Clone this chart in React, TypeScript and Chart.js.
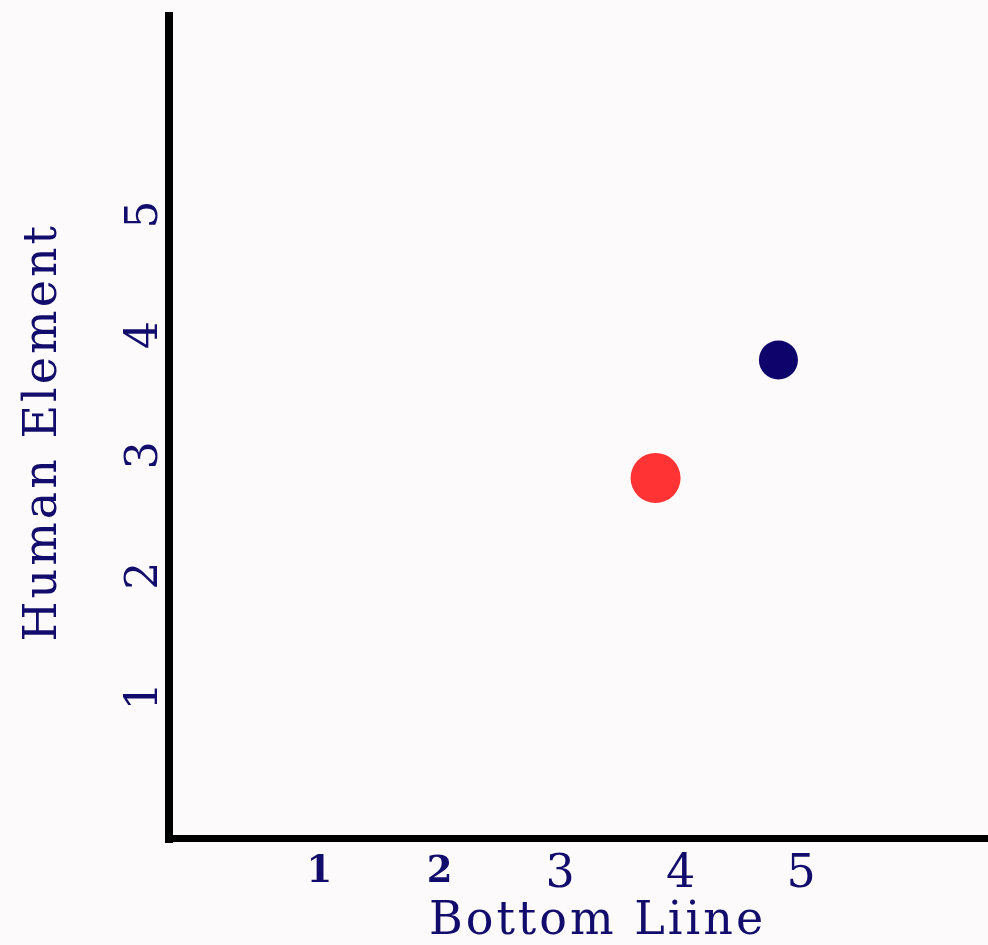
import React, { useEffect, useRef } from "react";
import { Chart, registerables } from "chart.js";

Chart.register(...registerables);

// ---- data ----
const X_TITLE = "Bottom Liine";
const Y_TITLE = "Human Element";
const X_TICKS = [1, 2, 3, 4, 5];
const Y_TICKS = [1, 2, 3, 4, 5];
const SERIES_NAMES = ["Red", "Blue"];
const SERIES_X = [3.78, 4.8];
const SERIES_Y = [2.8, 3.78];

// ---- axis ranges ----
const X_MIN = -0.26;
const X_MAX = 6.54;
const Y_MIN = -0.193;
const Y_MAX = 6.635;

// ---- styles ----
const FONT = "'DejaVu Serif', serif";
const TEXT = "#120d6c";
const BG = "#fdfafb";
const SERIES_COLORS = ["#ff3333", "#0e036b"];
const SERIES_RADII = [25, 19.5];
const X_TICK_LINE = 55;

const spacingPlugin = {
  id: "letterSpacing",
  beforeDraw(chart: any) {
    chart.ctx.letterSpacing = "3px";
  },
};

function fixAxis(axis: any, dx: number, dy: number) {
  axis.paddingTop = 0;
  axis.paddingBottom = 0;
  axis.paddingLeft = 0;
  axis.paddingRight = 0;
  if (!axis.__titleShift) {
    const orig = axis.drawTitle.bind(axis);
    axis.drawTitle = () => {
      const ctx = axis.ctx;
      ctx.save();
      ctx.translate(dx, dy);
      orig();
      ctx.restore();
    };
    axis.__titleShift = true;
  }
}

export default function App() {
  const ref = useRef<HTMLCanvasElement | null>(null);

  useEffect(() => {
    if (!ref.current) return;
    const chart = new Chart(ref.current, {
      type: "scatter",
      data: {
        datasets: SERIES_NAMES.map((name, i) => ({
          label: name,
          data: [{ x: SERIES_X[i], y: SERIES_Y[i] }],
          backgroundColor: SERIES_COLORS[i],
          borderWidth: 0,
          pointRadius: SERIES_RADII[i],
          pointHoverRadius: SERIES_RADII[i],
        })),
      },
      options: {
        animation: false,
        responsive: true,
        maintainAspectRatio: false,
        layout: { autoPadding: false, padding: { top: 16, left: 0, right: 0, bottom: 0 } },
        plugins: {
          legend: { display: false },
          tooltip: { enabled: false },
        },
        scales: {
          x: {
            type: "linear",
            min: X_MIN,
            max: X_MAX,
            afterBuildTicks: (axis: any) => {
              axis.ticks = X_TICKS.map((v) => ({ value: v }));
            },
            afterFit: (axis: any) => {
              axis.height = 106.5;
              fixAxis(axis, 19, 0);
            },
            grid: { display: false, drawTicks: false, lineWidth: 8 },
            border: { display: true, color: "#000000", width: 7 },
            ticks: {
              color: TEXT,
              padding: 9,
              maxRotation: 0,
              minRotation: 0,
              autoSkip: false,
              callback: (v: any) => String(v),
              font: (ctx: any) =>
                ctx.tick && ctx.tick.value <= 2
                  ? { family: FONT, size: 37, weight: "bold", lineHeight: (X_TICK_LINE - 6) / 37 }
                  : { family: FONT, size: 46, weight: "normal", lineHeight: X_TICK_LINE / 46 },
            },
            title: {
              display: true,
              text: X_TITLE,
              color: TEXT,
              font: { family: FONT, size: 46, lineHeight: 1 },
              padding: { top: 0, bottom: 0 },
            },
          },
          y: {
            type: "linear",
            min: Y_MIN,
            max: Y_MAX,
            afterBuildTicks: (axis: any) => {
              axis.ticks = Y_TICKS.map((v) => ({ value: v }));
            },
            afterFit: (axis: any) => {
              axis.width = 169;
              fixAxis(axis, 0, 5);
            },
            grid: { display: false, drawTicks: false, lineWidth: 8 },
            border: { display: true, color: "#000000", width: 8 },
            ticks: {
              color: TEXT,
              padding: 9.5,
              crossAlign: "center",
              minRotation: 90,
              maxRotation: 90,
              autoSkip: false,
              callback: (v: any) => String(v),
              font: { family: FONT, size: 44 },
            },
            title: {
              display: true,
              text: Y_TITLE,
              color: TEXT,
              font: { family: FONT, size: 46, lineHeight: 1 },
              padding: { top: 21, bottom: 0 },
            },
          },
        },
      },
      plugins: [spacingPlugin],
    } as any);
    return () => chart.destroy();
  }, []);

  return (
    <div
      style={{
        position: "fixed",
        left: 0,
        top: 0,
        width: 988,
        height: 945,
        background: BG,
      }}
    >
      <canvas ref={ref} />
    </div>
  );
}
